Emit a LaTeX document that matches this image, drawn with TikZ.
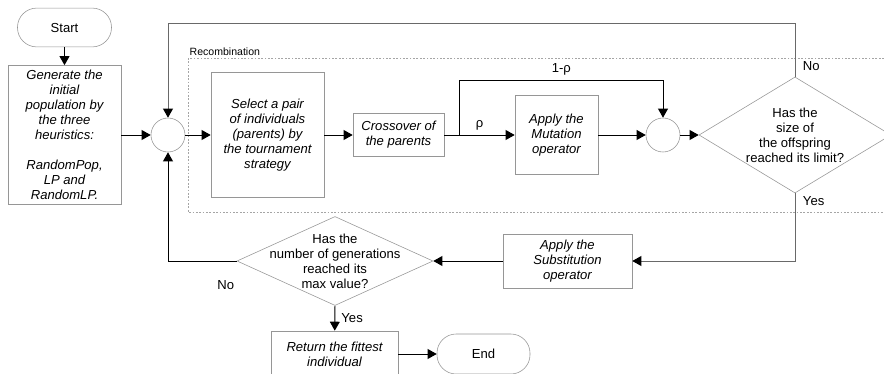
\documentclass[tikz,border=0pt]{standalone}
\usepackage{fontspec}
\setmainfont{Liberation Sans}
\usetikzlibrary{arrows.meta,positioning,calc,shapes.geometric}
\definecolor{BoxGray}{RGB}{150,150,150}
\definecolor{LoopGray}{RGB}{105,105,105}
\definecolor{FrameGray}{RGB}{165,165,165}

\begin{document}
\begin{tikzpicture}[x=0.025cm, y=-0.025cm, font=\fontsize{9.3}{10.7}\selectfont,
    proc/.style={draw=BoxGray, fill=white, align=center, inner sep=1pt, font=\fontsize{9.3}{10.7}\selectfont\itshape},
    term/.style={draw=BoxGray, fill=white, rounded corners=0.48cm, minimum width=2.35cm, minimum height=0.97cm},
    junc/.style={draw=BoxGray, fill=white, circle, minimum size=0.85cm, inner sep=0pt},
    dec/.style={draw=BoxGray, fill=white, diamond, inner sep=0pt},
    flow/.style={-{Triangle[length=6.4pt,width=7pt,color=black]}, line width=0.7pt}]
  \useasboundingbox (0,0) rectangle (884,374);

  % recombination frame
  \draw[FrameGray, dash pattern=on 1.2pt off 1.2pt] (188,58) rectangle (900,212);
  \node[anchor=south west, inner sep=1pt, font=\fontsize{7.5}{9}\selectfont] (recomb) at (188,57) {Recombination};

  % left column
  \node[term] (start) at (64.5,27.5) {Start};
  \node[proc, minimum width=2.825cm, minimum height=3.475cm] (init) at (64.5,135)
    {Generate the\\initial\\population by\\the three\\heuristics:\\[10.7pt]RandomPop,\\LP and\\RandomLP.};
  \node[junc] (join) at (168,135) {};

  % recombination steps
  \node[proc, minimum width=2.825cm, minimum height=3.125cm] (select) at (267.5,135)
    {Select a pair\\of individuals\\(parents) by\\the tournament\\strategy};
  \node[proc, minimum width=2.275cm, minimum height=1.075cm] (cross) at (398.5,135)
    {Crossover of\\the parents};
  \node[proc, minimum width=2.075cm, minimum height=1.975cm] (mut) at (556.5,135)
    {Apply the\\Mutation\\operator};
  \node[junc] (merge) at (663,135) {};
  \node[dec, minimum width=4.8cm, minimum height=2.9cm] (sizeq) at (795,135) {};
  \node[align=center] (sizeqtxt) at (sizeq) {Has the\\size of\\the offspring\\reached its limit?};

  % lower row
  \node[proc, minimum width=3.225cm, minimum height=1.35cm] (subst) at (567.5,261)
    {Apply the\\Substitution\\operator};
  \node[dec, minimum width=4.9cm, minimum height=2.225cm] (genq) at (335,261) {};
  \node[align=center] (genqtxt) at (genq) {Has the\\number of generations\\reached its\\max value?};
  \node[proc, minimum width=3.175cm, minimum height=1.15cm] (ret) at (334.5,354)
    {Return the fittest\\individual};
  \node[term, minimum width=2.325cm, minimum height=1.0cm] (end) at (483.5,354) {End};

  % connectors
  \draw[flow] (start) -- (init);
  \draw[flow] (init) -- (join);
  \draw[flow] (join) -- (select);
  \draw[flow] (select) -- (cross);
  \draw[flow] (cross) -- node[above]{ρ} (mut);
  \coordinate (skip) at ($(cross.east)!0.22!(mut.west)$);
  \draw[flow] (skip) -- ++(0,-55) -| node[pos=0.25, above]{1-ρ} (merge.north);
  \draw[flow] (mut) -- (merge);
  \draw[flow] (merge) -- (sizeq);
  \draw[flow, draw=LoopGray] (sizeq.north) -- ++(0,-53) node[pos=0.2, right=2pt]{No} -| (join.north);
  \draw[flow, draw=LoopGray] (sizeq.south) |- node[pos=0.06, right=2pt]{Yes} (subst.east);
  \draw[flow] (subst) -- (genq);
  \draw[flow] (genq.west) -| node[pos=0.08, below=0.35cm]{No} (join.south);
  \draw[flow] (genq.south) -- node[right=1pt]{Yes} (ret);
  \draw[flow] (ret) -- (end);
\end{tikzpicture}
\end{document}
